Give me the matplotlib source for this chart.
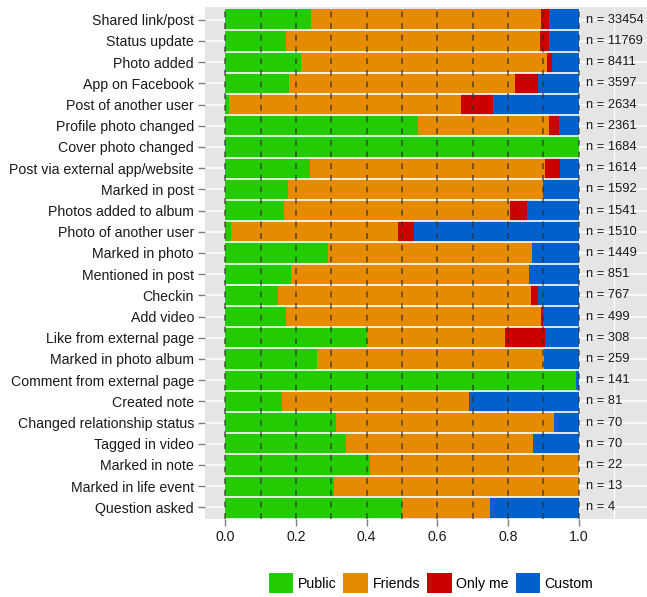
import matplotlib
matplotlib.use("Agg")
import matplotlib.pyplot as plt
from matplotlib.patches import Patch
import numpy as np

plt.rcParams['font.family'] = ['Liberation Sans', 'DejaVu Sans']

categories = [
    "Shared link/post", "Status update", "Photo added", "App on Facebook",
    "Post of another user", "Profile photo changed", "Cover photo changed",
    "Post via external app/website", "Marked in post", "Photos added to album",
    "Photo of another user", "Marked in photo", "Mentioned in post", "Checkin",
    "Add video", "Like from external page", "Marked in photo album",
    "Comment from external page", "Created note", "Changed relationship status",
    "Tagged in video", "Marked in note", "Marked in life event", "Question asked",
]
counts = [33454, 11769, 8411, 3597, 2634, 2361, 1684, 1614, 1592, 1541, 1510,
          1449, 851, 767, 499, 308, 259, 141, 81, 70, 70, 22, 13, 4]

# shares of each privacy setting
public = [0.243, 0.172, 0.215, 0.181, 0.011, 0.546, 1.000, 0.240, 0.178, 0.166,
          0.017, 0.290, 0.187, 0.149, 0.172, 0.401, 0.259, 0.993, 0.160, 0.314,
          0.343, 0.409, 0.308, 0.500]
friends = [0.650, 0.719, 0.694, 0.639, 0.656, 0.370, 0.000, 0.665, 0.721, 0.640,
           0.472, 0.578, 0.673, 0.716, 0.722, 0.391, 0.642, 0.000, 0.531, 0.615,
           0.528, 0.591, 0.692, 0.250]
only_me = [0.023, 0.025, 0.015, 0.064, 0.091, 0.028, 0.000, 0.041, 0.000, 0.048,
           0.044, 0.000, 0.000, 0.019, 0.005, 0.113, 0.000, 0.000, 0.000, 0.000,
           0.000, 0.000, 0.000, 0.000]
custom = [1 - a - b - c for a, b, c in zip(public, friends, only_me)]

series = [("Public", public, "#22CC00"), ("Friends", friends, "#E68A00"),
          ("Only me", only_me, "#CC0000"), ("Custom", custom, "#0060CC")]

FS = 10.2

fig = plt.figure(figsize=(6.47, 5.97), dpi=100)
ax = fig.add_axes([205 / 647, 78 / 597, 442 / 647, 512 / 597])
ax.set_facecolor("#E5E5E5")

y = np.arange(len(categories))

# background grid
for gx in np.arange(0, 1.21, 0.1):
    ax.axvline(gx, color="white", lw=0.9, zorder=0)
for gy in y:
    ax.axhline(gy, color="white", lw=1.1, zorder=0)

left = np.zeros(len(categories))
for name, vals, col in series:
    vals = np.array(vals)
    ax.barh(y, vals, left=left, height=1.0, color=col, edgecolor="none", zorder=1)
    left += vals

# thin white separators between bars
ax.hlines(y[:-1] + 0.5, 0, 1, colors="white", lw=1.2, zorder=2)

# dashed reference lines
for gx in np.arange(0, 1.01, 0.1):
    ax.axvline(gx, color="#333333", lw=1.2, ls=(0, (3.5, 3.5)), alpha=0.75, zorder=3)

for yi, n in zip(y, counts):
    ax.text(1.02, yi, f"n = {n}", va="center", ha="left", fontsize=9.3,
            color="#1a1a1a", zorder=4)

ax.set_xlim(-0.057, 1.193)
ax.set_ylim(len(categories) - 0.45, -0.6)
ax.set_yticks(y)
ax.set_yticklabels(categories)
ax.set_xticks(np.arange(0, 1.01, 0.2))
ax.set_xticklabels([f"{v:.1f}" for v in np.arange(0, 1.01, 0.2)])
ax.tick_params(axis="both", length=5, width=1, color="#7F7F7F",
               labelsize=FS, labelcolor="#1a1a1a", pad=3)
for s in ax.spines.values():
    s.set_visible(False)

handles = [Patch(facecolor=col, edgecolor="none", label=name) for name, _, col in series]
fig.legend(handles=handles, loc="center", bbox_to_anchor=(431 / 647, 14 / 597),
           ncol=4, frameon=False, fontsize=FS, handlelength=1.75, handleheight=1.75,
           handletextpad=0.3, columnspacing=0.5, borderaxespad=0)

fig.savefig("out.png", dpi=100)
